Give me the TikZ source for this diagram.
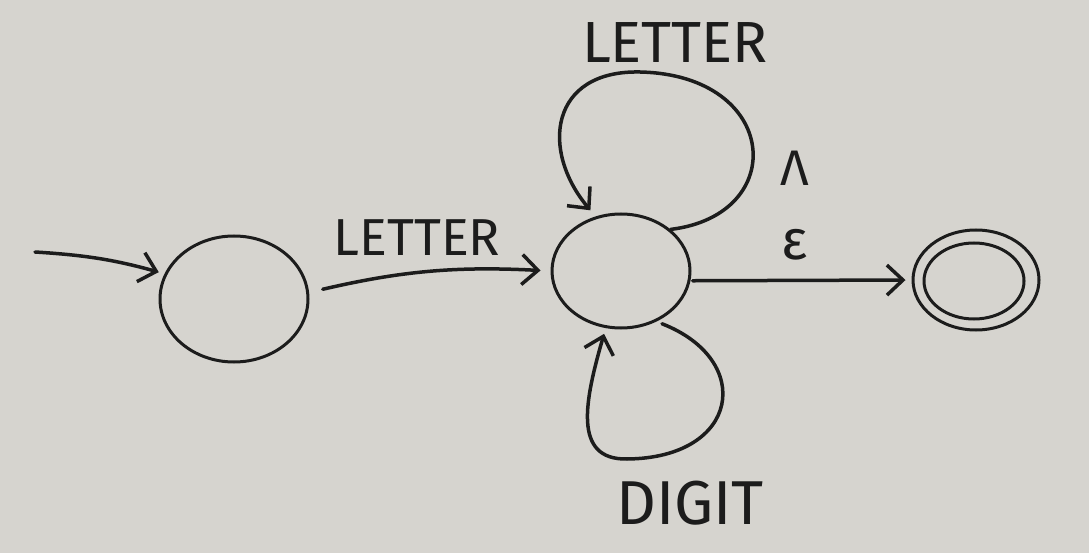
\documentclass[tikz,border=0pt]{standalone}
\usepackage{fontspec}
\setmainfont{Fira Sans}
\usetikzlibrary{shapes.geometric,arrows.meta}
\definecolor{board}{RGB}{214,212,207}
\definecolor{ink}{RGB}{28,28,28}
\tikzset{
  state/.style={draw=ink, line width=3pt, ellipse, inner sep=0pt},
  edge/.style={draw=ink, line width=3.5pt, line cap=round, -{Straight Barb[length=16pt,width=30pt,line width=3.5pt]}},
  lbl/.style={text=ink, inner sep=0pt}
}
\begin{document}
\begin{tikzpicture}[x=1pt,y=-1pt]
\useasboundingbox[fill=board] (0,0) rectangle (1089,553);
\node[state, minimum width=148pt, minimum height=126pt] (s1) at (234,299) {};
\node[state, minimum width=138pt, minimum height=114pt] (s2) at (621,271) {};
\node[state, minimum width=126pt, minimum height=100pt] (s3) at (976,280) {};
\node[state, minimum width=100pt, minimum height=76pt] (s3i) at (974,281) {};
\coordinate (init) at (35,252);
\node[lbl, font=\fontsize{52}{52}\selectfont] (l1) at (417,238) {LETTER};
\node[lbl, font=\fontsize{58}{58}\selectfont] (l2) at (675,43) {LETTER};
\node[lbl, font=\fontsize{62}{62}\selectfont] (l3) at (690,503) {DIGIT};
\node[lbl, font=\fontsize{50}{50}\selectfont] (l4) at (795,168) {Λ};
\node[lbl, font=\fontsize{56}{56}\selectfont] (l5) at (795,245) {ε};
\draw[edge, shorten >=6pt] (init) to[bend left=6] (s1.160);
\draw[edge, shorten <=14pt, shorten >=10pt] (s1.5) to[bend left=8] (s2.180);
\draw[edge, shorten <=2pt, shorten >=6pt] (s2.352) -- (s3.180);
\draw[edge, shorten >=8pt] (s2.40) .. controls (790,215) and (780,75) .. (640,72) .. controls (550,70) and (540,150) .. (s2.115);
\draw[edge, shorten <=6pt, shorten >=6pt] (s2.305) .. controls (755,360) and (740,458) .. (627,459) .. controls (572,460) and (585,400) .. (s2.255);
\end{tikzpicture}
\end{document}
